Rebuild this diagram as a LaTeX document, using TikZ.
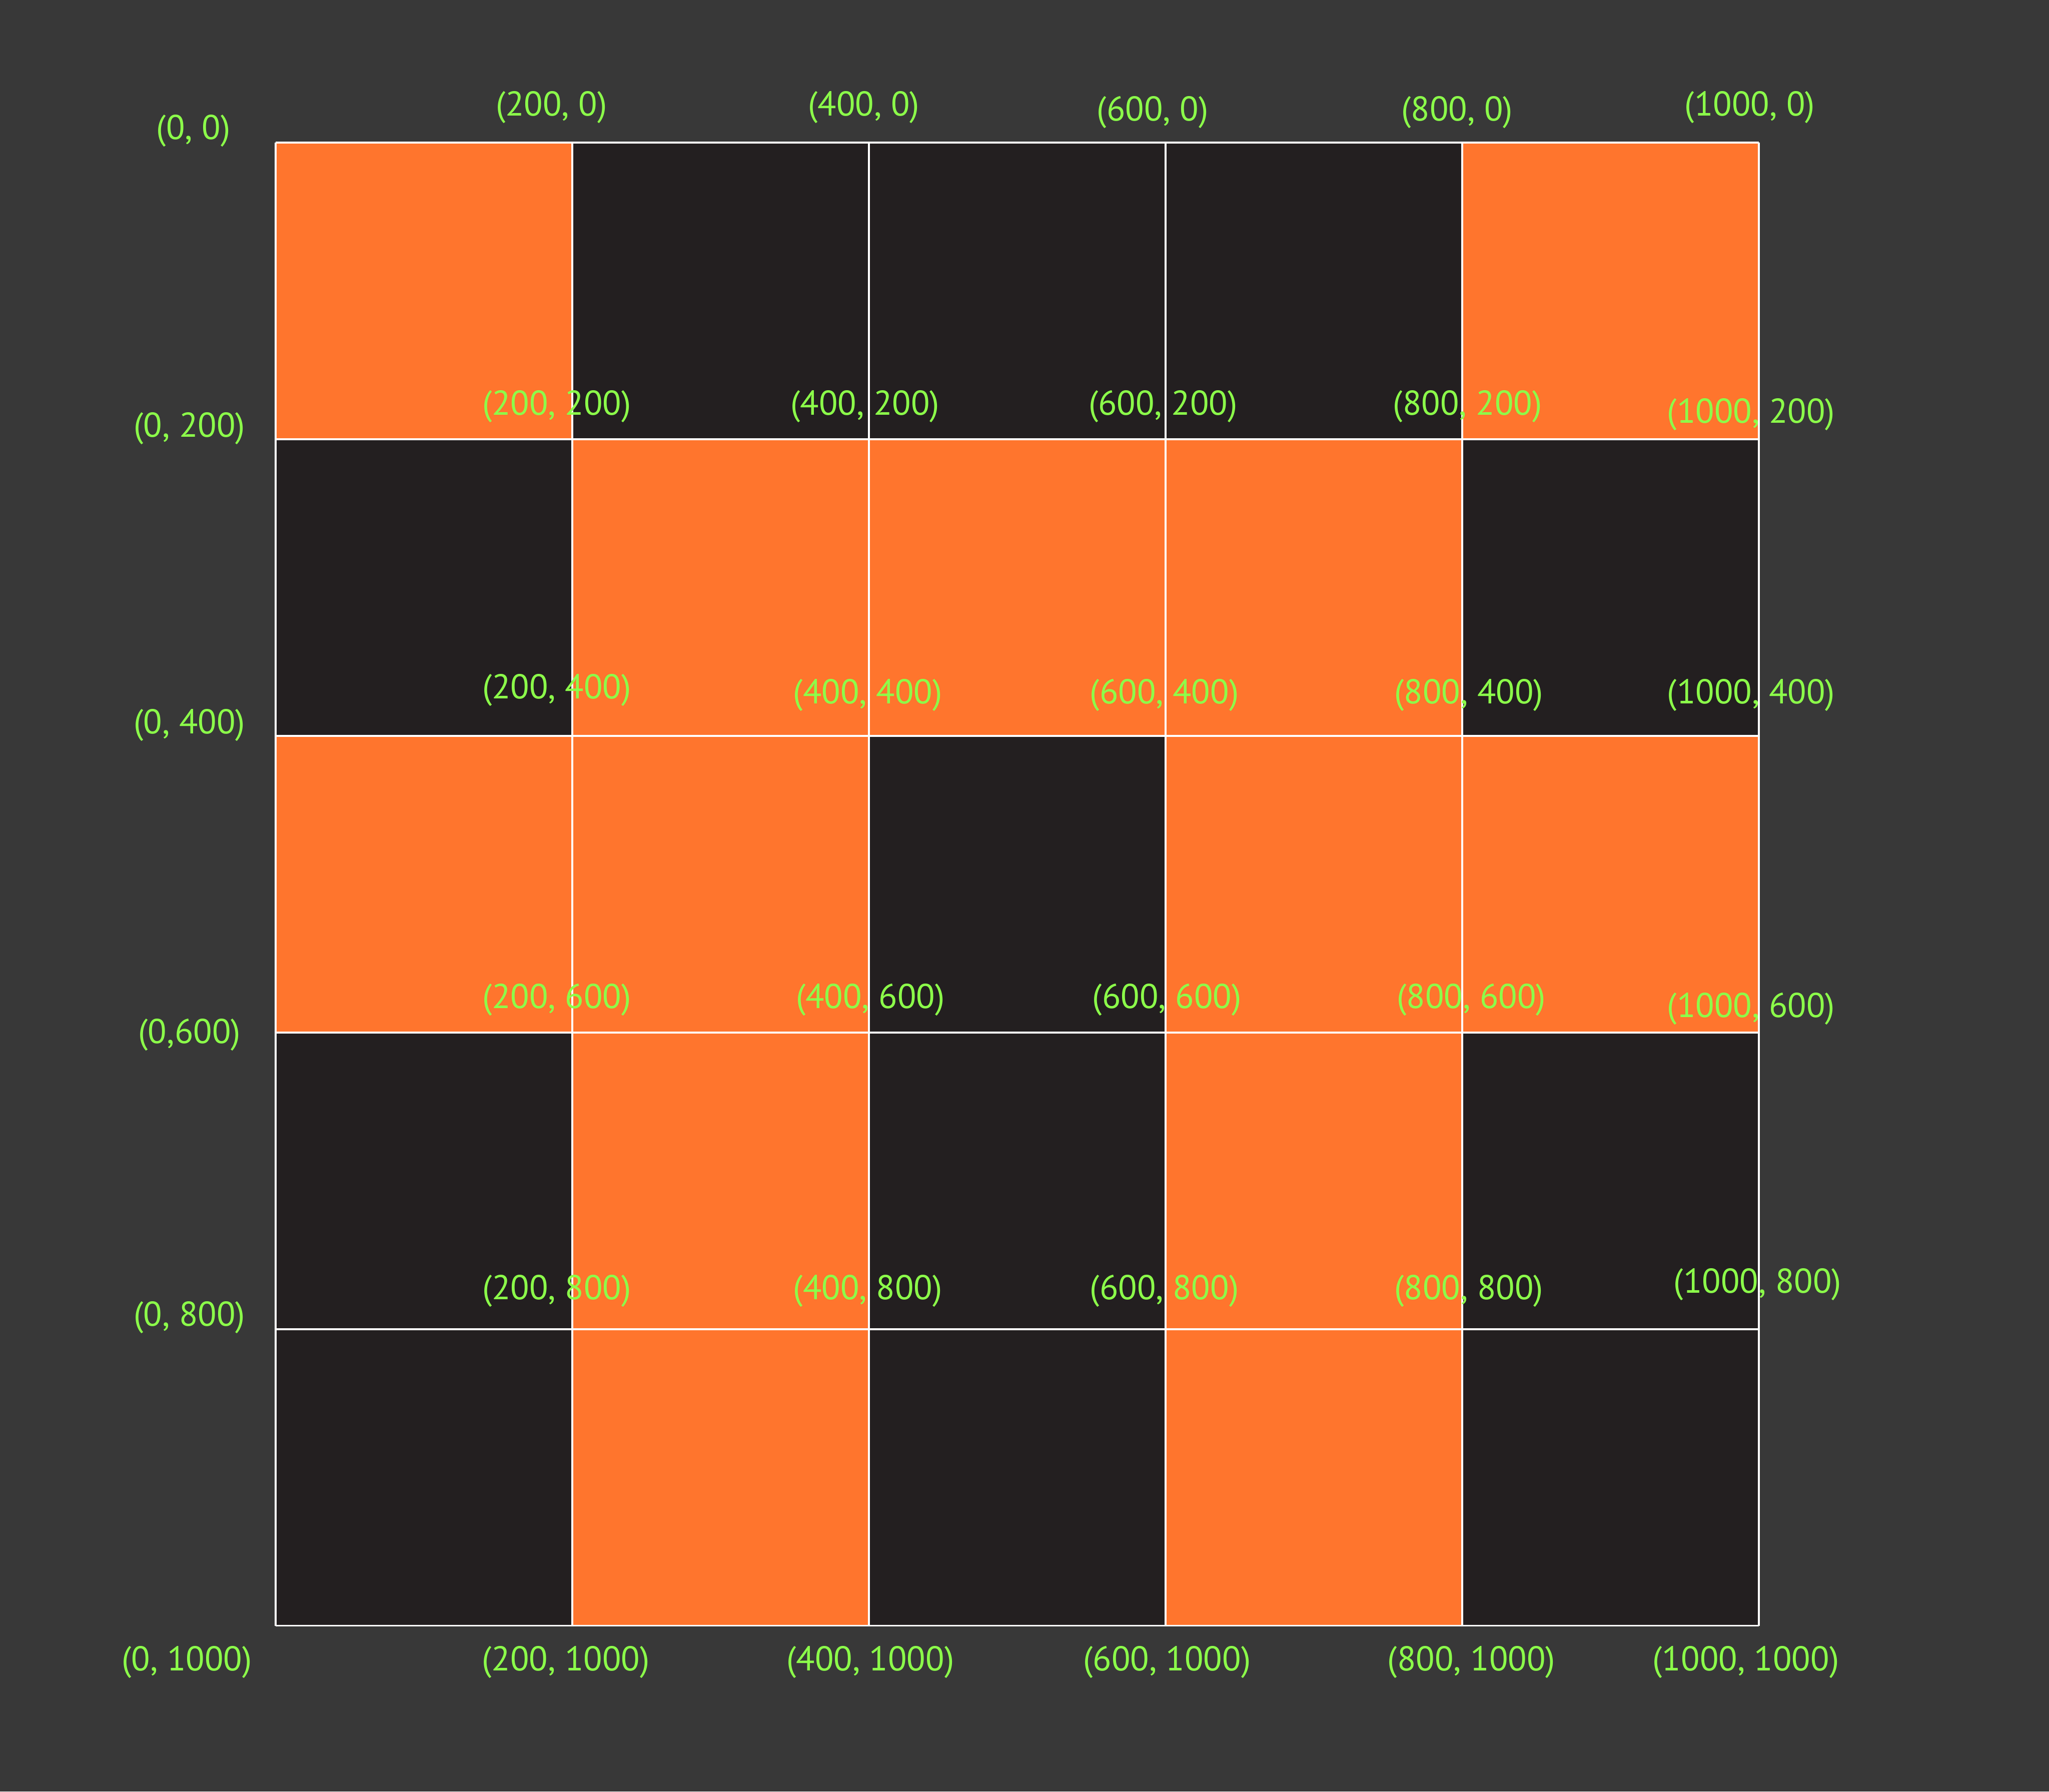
\documentclass[tikz,border=0pt]{standalone}
\usepackage{fontspec}
\setmainfont{PT Sans}
\usetikzlibrary{positioning}
\definecolor{canvas}{HTML}{383838}
\definecolor{tile}{HTML}{231F20}
\definecolor{ember}{HTML}{FF752D}
\definecolor{lime}{HTML}{8CFF4A}
\tikzset{
  every node/.style={inner sep=0pt},
  coord/.style={font=\fontsize{15}{18}\selectfont,text=lime},
  gridline/.style={draw=white,line width=.8pt},
}
\begin{document}
\begin{tikzpicture}[x=.02cm,y=-.02cm]
\path[use as bounding box] (0,0) rectangle (1568,1371);
\fill[canvas] (0,0) rectangle (1568,1371);
% Tiles: one list of fills per row, top to bottom.
\foreach \pattern [count=\r from 0] in {{ember,tile,tile,tile,ember},{tile,ember,ember,ember,tile},{ember,ember,tile,ember,ember},{tile,ember,tile,ember,tile},{tile,ember,tile,ember,tile}}{
  \foreach \tint [count=\k from 0] in \pattern{
    \fill[\tint] (211+227*\k,109+227*\r) rectangle (211+227*\k+227,109+227*\r+227);
  }
}
% Grid lines.
\foreach \k in {0,...,5}{
  \draw[gridline] (211+227*\k,109)--(211+227*\k,1244);
  \draw[gridline] (211,109+227*\k)--(1346,109+227*\k);
}
% Corner labels, top row.
\node[coord] (t0) at (148,100) {(0, 0)};
\node[coord] (t1) at (422,82) {(200, 0)};
\node[coord] (t2) at (661,82) {(400, 0)};
\node[coord] (t3) at (882,86) {(600, 0)};
\node[coord] (t4) at (1115,86) {(800, 0)};
\node[coord] (t5) at (1339,82) {(1000, 0)};
% y = 200.
\node[coord] (a0) at (145,328) {(0, 200)};
\node[coord] (a1) at (426,311) {(200, 200)};
\node[coord] (a2) at (662,311) {(400, 200)};
\node[coord] (a3) at (890,311) {(600, 200)};
\node[coord] (a4) at (1123,311) {(800, 200)};
\node[coord] (a5) at (1340,317) {(1000, 200)};
% y = 400.
\node[coord] (b0) at (145,555) {(0, 400)};
\node[coord] (b1) at (426,528) {(200, 400)};
\node[coord] (b2) at (664,532) {(400, 400)};
\node[coord] (b3) at (891,532) {(600, 400)};
\node[coord] (b4) at (1124,532) {(800, 400)};
\node[coord] (b5) at (1340,532) {(1000, 400)};
% y = 600.
\node[coord] (c0) at (145,792) {(0,600)};
\node[coord] (c1) at (426,765) {(200, 600)};
\node[coord] (c2) at (666,765) {(400, 600)};
\node[coord] (c3) at (893,765) {(600, 600)};
\node[coord] (c4) at (1126,765) {(800, 600)};
\node[coord] (c5) at (1340,772) {(1000, 600)};
% y = 800.
\node[coord] (d0) at (145,1008) {(0, 800)};
\node[coord] (d1) at (426,988) {(200, 800)};
\node[coord] (d2) at (664,988) {(400, 800)};
\node[coord] (d3) at (891,988) {(600, 800)};
\node[coord] (d4) at (1124,988) {(800, 800)};
\node[coord] (d5) at (1345,983) {(1000, 800)};
% y = 1000.
\node[coord] (e0) at (143,1272) {(0, 1000)};
\node[coord] (e1) at (433,1272) {(200, 1000)};
\node[coord] (e2) at (666,1272) {(400, 1000)};
\node[coord] (e3) at (893,1272) {(600, 1000)};
\node[coord] (e4) at (1126,1272) {(800, 1000)};
\node[coord] (e5) at (1336,1272) {(1000, 1000)};
\end{tikzpicture}
\end{document}
